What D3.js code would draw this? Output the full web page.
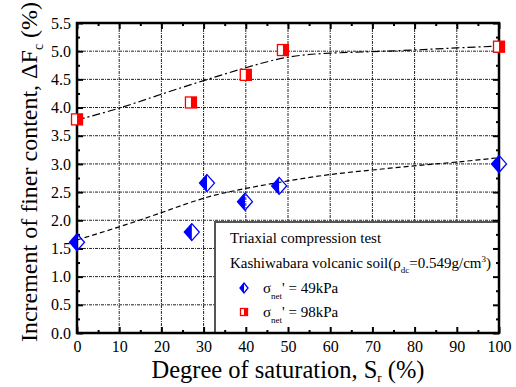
<!DOCTYPE html>
<html>
<head>
<meta charset="utf-8">
<script src="https://cdn.jsdelivr.net/npm/d3@7"></script>
<style>
  html, body { margin: 0; padding: 0; background: #fff; }
  svg text { font-family: "Liberation Serif", "DejaVu Serif", serif !important; fill: #000; }
</style>
</head>
<body>
<svg id="chart" width="516" height="387"></svg>
<script>
// measured data, sigma_net' = 49 kPa (blue diamonds)
const sr49 = [0, 27.2, 30.8, 39.8, 47.9, 100];
const fc49 = [1.61, 1.79, 2.66, 2.33, 2.61, 3.0];
// sigma_net' = 98 kPa (red squares)
const sr98 = [0, 27, 40, 48.8, 100];
const fc98 = [3.79, 4.09, 4.58, 5.02, 5.08];

// fitted trend lines
const fitSr = [0, 10, 20, 30, 40, 50, 60, 70, 80, 90, 100];
const fit49 = [1.65, 1.88, 2.13, 2.41, 2.57, 2.70, 2.82, 2.89, 2.97, 3.03, 3.11];
const fit98 = [3.78, 3.98, 4.24, 4.48, 4.71, 4.92, 4.97, 4.99, 5.02, 5.06, 5.09];

const xTicks = [0, 10, 20, 30, 40, 50, 60, 70, 80, 90, 100];
const yTicks = [0, 0.5, 1, 1.5, 2, 2.5, 3, 3.5, 4, 4.5, 5, 5.5];

const SERIF = 'Liberation Serif';
const svg = d3.select('#chart');
const L = 77, R = 499, T = 23, B = 333;

const x = d3.scaleLinear().domain([0, 100]).range([L, R]);
const y = d3.scaleLinear().domain([0, 5.5]).range([B, T]);

// grid
const grid = svg.append('g').attr('stroke', '#222').attr('stroke-width', 1)
  .attr('stroke-dasharray', '3,1,1,1');
grid.selectAll('.gx').data(xTicks.slice(1, -1)).join('line')
  .attr('x1', d => x(d)).attr('x2', d => x(d)).attr('y1', T).attr('y2', B);
grid.selectAll('.gy').data(yTicks.slice(1, -1)).join('line')
  .attr('y1', d => y(d)).attr('y2', d => y(d)).attr('x1', L).attr('x2', R);

// legend box (covers grid)
const lg = svg.append('g').attr('font-family', SERIF);
lg.append('rect').attr('x', 215).attr('y', 222).attr('width', R - 215).attr('height', B - 222)
  .attr('fill', '#fff').attr('stroke', '#555').attr('stroke-width', 2);

// axes with inward ticks on all four sides
const minorX = d3.range(5, 100, 10);
const minorY = d3.range(0.25, 5.5, 0.5);
function axisAll(g) {
  g.append('g').attr('transform', `translate(0,${B})`)
    .call(d3.axisBottom(x).tickValues(xTicks).tickSize(-6).tickFormat(d3.format('d')).tickPadding(8));
  g.append('g').attr('transform', `translate(0,${B})`)
    .call(d3.axisBottom(x).tickValues(minorX).tickSize(-3).tickFormat(''));
  g.append('g').attr('transform', `translate(0,${T})`)
    .call(d3.axisTop(x).tickValues(xTicks).tickSize(-6).tickFormat(''));
  g.append('g').attr('transform', `translate(0,${T})`)
    .call(d3.axisTop(x).tickValues(minorX).tickSize(-3).tickFormat(''));
  g.append('g').attr('transform', `translate(${L},0)`)
    .call(d3.axisLeft(y).tickValues(yTicks).tickSize(-6).tickFormat(d3.format('.1f')).tickPadding(6));
  g.append('g').attr('transform', `translate(${L},0)`)
    .call(d3.axisLeft(y).tickValues(minorY).tickSize(-3).tickFormat(''));
  g.append('g').attr('transform', `translate(${R},0)`)
    .call(d3.axisRight(y).tickValues(yTicks).tickSize(-6).tickFormat(''));
  g.append('g').attr('transform', `translate(${R},0)`)
    .call(d3.axisRight(y).tickValues(minorY).tickSize(-3).tickFormat(''));
  g.selectAll('.domain').remove();
  g.selectAll('.tick line').attr('stroke', '#000').attr('stroke-width', 2);
  g.selectAll('g').attr('font-family', SERIF);
  g.selectAll('.tick text').attr('font-family', SERIF).attr('font-size', 16);
}
const ax = svg.append('g');
axisAll(ax);
svg.append('rect').attr('x', L).attr('y', T).attr('width', R - L).attr('height', B - T)
  .attr('fill', 'none').attr('stroke', '#000').attr('stroke-width', 2.5);

// fit lines
const line = d3.line().x((d, i) => x(fitSr[i])).y(d => y(d)).curve(d3.curveBasis);
svg.append('path').attr('d', line(fit98)).attr('fill', 'none').attr('stroke', '#000')
  .attr('stroke-width', 1.2).attr('stroke-dasharray', '8,3,2,3');
svg.append('path').attr('d', line(fit49)).attr('fill', 'none').attr('stroke', '#000')
  .attr('stroke-width', 1.2).attr('stroke-dasharray', '5,3');

// marker builders
function diamond(g, cx, cy, w, h) {
  g.append('path').attr('d', `M${cx},${cy - h / 2}L${cx - w / 2},${cy}L${cx},${cy + h / 2}Z`).attr('fill', '#0000ff');
  g.append('path').attr('d', `M${cx},${cy - h / 2}L${cx + w / 2},${cy}L${cx},${cy + h / 2}L${cx - w / 2},${cy}Z`)
    .attr('fill', 'none').attr('stroke', '#0000ff').attr('stroke-width', 1.3);
}
function square(g, cx, cy, s) {
  g.append('rect').attr('x', cx - s / 2).attr('y', cy - s / 2).attr('width', s).attr('height', s).attr('fill', '#fff');
  g.append('rect').attr('x', cx).attr('y', cy - s / 2).attr('width', s / 2).attr('height', s).attr('fill', '#ff0000');
  g.append('rect').attr('x', cx - s / 2).attr('y', cy - s / 2).attr('width', s).attr('height', s)
    .attr('fill', 'none').attr('stroke', '#ff0000').attr('stroke-width', 1.3);
}

const pts = svg.append('g');
sr49.forEach((s, i) => diamond(pts, x(s), y(fc49[i]), 15, 17));
sr98.forEach((s, i) => square(pts, x(s), y(fc98[i]), 11));

// legend text
const fs = 15;
lg.append('text').attr('x', 230).attr('y', 243).attr('font-size', fs).text('Triaxial compression test');
const t2 = lg.append('text').attr('x', 230).attr('y', 268).attr('font-size', fs);
t2.append('tspan').text('Kashiwabara volcanic soil(ρ');
t2.append('tspan').attr('font-size', 9).attr('dy', 5).text('dc');
t2.append('tspan').attr('dy', -5).text('=0.549g/cm');
t2.append('tspan').attr('font-size', 9).attr('dy', -6).text('3');
t2.append('tspan').attr('dy', 6).text(')');
[['49kPa', 293], ['98kPa', 317]].forEach(([v, yy]) => {
  const t = lg.append('text').attr('x', 263).attr('y', yy).attr('font-size', fs);
  t.append('tspan').text('σ');
  t.append('tspan').attr('font-size', 9).attr('dy', 6).text('net');
  t.append('tspan').attr('dy', -6).text("' = " + v);
});
diamond(lg, 244, 288, 8, 10);
square(lg, 244, 312, 7);

// axis titles
const xt = svg.append('text').attr('x', 288).attr('y', 378).attr('text-anchor', 'middle')
  .attr('font-family', SERIF).attr('font-size', 24.5);
xt.append('tspan').text('Degree of saturation, S');
xt.append('tspan').attr('font-size', 13).attr('dy', 4).text('r');
xt.append('tspan').attr('dy', -4).text(' (%)');

const yt = svg.append('text').attr('transform', 'translate(37,172) rotate(-90)')
  .attr('text-anchor', 'middle').attr('font-family', SERIF).attr('font-size', 24);
yt.append('tspan').text('Increment of finer content, ΔF');
yt.append('tspan').attr('font-size', 14).attr('dy', 6).text('c');
yt.append('tspan').attr('dy', -6).text(' (%)');
</script>
</body>
</html>
